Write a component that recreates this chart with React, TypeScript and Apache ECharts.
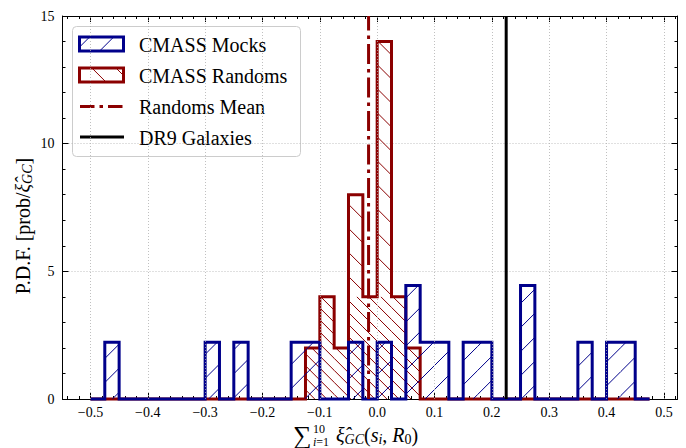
import React, { useEffect, useRef } from 'react';
import * as echarts from 'echarts';

// ---------------- data ----------------
const binEdges: number[] = [
  -0.5, -0.475, -0.45, -0.425, -0.4, -0.375, -0.35, -0.325, -0.3, -0.275,
  -0.25, -0.225, -0.2, -0.175, -0.15, -0.125, -0.1, -0.075, -0.05, -0.025,
  0.0, 0.025, 0.05, 0.075, 0.1, 0.125, 0.15, 0.175, 0.2, 0.225,
  0.25, 0.275, 0.3, 0.325, 0.35, 0.375, 0.4, 0.425, 0.45, 0.475,
];

// CMASS Mocks (density per bin, 18 mocks)
const mockDensity: number[] = [
  0, 2.222, 0, 0, 0, 0, 0, 0, 2.222, 0,
  2.222, 0, 0, 0, 2.222, 2.222, 0, 0, 2.222, 0,
  2.222, 0, 4.444, 2.222, 2.222, 0, 2.222, 2.222, 0, 0,
  4.444, 0, 0, 0, 2.222, 0, 2.222, 2.222, 0,
];

// CMASS Randoms (density per bin, 20 randoms)
const randomDensity: number[] = [
  0, 0, 0, 0, 0, 0, 0, 0, 0, 0,
  0, 0, 0, 0, 0, 2, 4, 2, 8, 4,
  14, 4, 2, 0, 0, 0, 0, 0, 0, 0,
  0, 0, 0, 0, 0, 0, 0, 0, 0,
];

const randomsMean = -0.015;
const dr9Galaxies = 0.225;

const xTicks: number[] = [-0.5, -0.4, -0.3, -0.2, -0.1, 0.0, 0.1, 0.2, 0.3, 0.4, 0.5];
const yTicks: number[] = [0, 5, 10, 15];
const legendLabels: string[] = ['CMASS Mocks', 'CMASS Randoms', 'Randoms Mean', 'DR9 Galaxies'];

const X_MIN = -0.54875;
const X_MAX = 0.52375;
const Y_MIN = 0;
const Y_MAX = 15;

const xMinorTicks: number[] = [];
for (let k = -27; k <= 26; k++) xMinorTicks.push(Math.round(k * 2) / 100);

// ---------------- style ----------------
const FONT = 'Liberation Serif, DejaVu Serif, serif';
const BLUE = '#00008b';
const RED = '#8b0000';
const GRID = '#b0b0b0';
const PERIOD = 24.05;
const BLUE_PHASE = 463.3;
const RED_PHASE = -336.6;

function hatchSegments(x0: number, y0: number, x1: number, y1: number, dir: number, phase: number) {
  const segs: number[][] = [];
  if (x1 - x0 < 0.5 || y1 - y0 < 0.5) return segs;
  if (dir === 1) {
    const cMin = x0 + y0, cMax = x1 + y1;
    let c = Math.ceil((cMin - phase) / PERIOD) * PERIOD + phase;
    for (; c <= cMax; c += PERIOD) {
      const xs = Math.max(x0, c - y1), xe = Math.min(x1, c - y0);
      if (xe - xs > 0.3) segs.push([xs, c - xs, xe, c - xe]);
    }
  } else {
    const cMin = y0 - x1, cMax = y1 - x0;
    let c = Math.ceil((cMin - phase) / PERIOD) * PERIOD + phase;
    for (; c <= cMax; c += PERIOD) {
      const xs = Math.max(x0, y0 - c), xe = Math.min(x1, y1 - c);
      if (xe - xs > 0.3) segs.push([xs, xs + c, xe, xe + c]);
    }
  }
  return segs;
}

function hatchElements(x0: number, y0: number, x1: number, y1: number, dir: number, phase: number, color: string) {
  return hatchSegments(x0, y0, x1, y1, dir, phase).map((s) => ({
    type: 'line',
    silent: true,
    shape: { x1: s[0], y1: s[1], x2: s[2], y2: s[3] },
    style: { stroke: color, lineWidth: 1 },
  }));
}

function makeHistRender(density: number[], color: string, dir: number, phase: number, dense?: { cap: number; phase: number }) {
  return (_params: any, api: any) => {
    const children: any[] = [];
    for (let i = 0; i < density.length; i++) {
      const h = density[i];
      if (h <= 0) continue;
      const a = api.coord([binEdges[i], h]);
      const b = api.coord([binEdges[i + 1], 0]);
      children.push(...hatchElements(a[0], a[1], b[0], b[1], dir, phase, color));
      if (dense) {
        const c = api.coord([binEdges[i], Math.min(h, dense.cap)]);
        children.push(...hatchElements(c[0], c[1], b[0], b[1], dir, dense.phase, color));
      }
    }
    const pts: number[][] = [api.coord([binEdges[0], 0])];
    for (let i = 0; i < density.length; i++) {
      pts.push(api.coord([binEdges[i], density[i]]));
      pts.push(api.coord([binEdges[i + 1], density[i]]));
    }
    pts.push(api.coord([binEdges[density.length], 0]));
    children.push({
      type: 'polyline',
      silent: true,
      shape: { points: pts },
      style: { stroke: color, lineWidth: 3, fill: 'none', lineJoin: 'miter' },
    });
    return { type: 'group', children };
  };
}

const fmtX = (v: number) => {
  const s = Math.abs(v) < 1e-9 ? '0.0' : v.toFixed(1);
  return s.replace('-', '\u2212');
};

const axisBase = (pos: string, extra: any) => ({
  type: 'value',
  position: pos,
  min: X_MIN,
  max: X_MAX,
  splitLine: { show: false },
  ...extra,
});

function legendGraphic() {
  const children: any[] = [];
  children.push({
    type: 'rect',
    shape: { x: 72.5, y: 26.5, width: 228, height: 130, r: 4 },
    style: { fill: 'rgba(255,255,255,0.8)', stroke: '#cccccc', lineWidth: 1 },
  });
  // Row 1: mocks
  children.push(...hatchElements(79.5, 37, 123.5, 51, 1, BLUE_PHASE, BLUE));
  children.push({ type: 'rect', shape: { x: 79.5, y: 37, width: 44, height: 14 }, style: { fill: 'none', stroke: BLUE, lineWidth: 3 } });
  // Row 2: randoms
  children.push(...hatchElements(79.5, 68, 123.5, 82, -1, RED_PHASE, RED));
  children.push({ type: 'rect', shape: { x: 79.5, y: 68, width: 44, height: 14 }, style: { fill: 'none', stroke: RED, lineWidth: 3 } });
  // Row 3: mean line
  children.push({ type: 'line', shape: { x1: 80, y1: 106.5, x2: 124, y2: 106.5 }, style: { stroke: RED, lineWidth: 3, lineDash: [14.5, 5, 3.5, 5] } });
  // Row 4: DR9
  children.push({ type: 'line', shape: { x1: 80, y1: 137, x2: 124, y2: 137 }, style: { stroke: '#000', lineWidth: 3 } });
  const ys = [45, 76, 107, 137.5];
  legendLabels.forEach((t, i) => {
    children.push({
      type: 'text',
      x: 139,
      y: ys[i],
      style: {
        text: '{a|' + t + '}', fill: '#000', fontSize: 20, fontFamily: FONT, align: 'left', verticalAlign: 'middle',
        rich: { a: { fontSize: 20, fontFamily: FONT, fill: '#000' } },
      },
    });
  });
  return { type: 'group', z: 100, children };
}

function axisTitles() {
  const rich = {
    rm: { fontSize: 20, fontFamily: FONT, fill: '#000', lineHeight: 20 },
    it: { fontSize: 20, fontFamily: FONT, fontStyle: 'italic', fill: '#000', lineHeight: 20 },
    sub: { fontSize: 14, fontFamily: FONT, fontStyle: 'italic', fill: '#000', lineHeight: 14, padding: [8, 0, 0, 0] },
    subrm: { fontSize: 14, fontFamily: FONT, fill: '#000', lineHeight: 14, padding: [8, 0, 0, 0] },
  };
  const small = {
    i: { fontSize: 12, fontStyle: 'italic', fontFamily: FONT, fill: '#000' },
    n: { fontSize: 12, fontFamily: FONT, fill: '#000' },
  };
  return [
    // x label
    {
      type: 'text', x: 293, y: 435, z: 100,
      style: {
        text: '{s|\u2211}', fill: '#000', fontSize: 26, fontFamily: FONT, align: 'left', verticalAlign: 'middle',
        rich: { s: { fontSize: 26, fontFamily: FONT, fill: '#000' } },
      },
    },
    {
      type: 'text', x: 313, y: 428.5, z: 100,
      style: { text: '{n|10}', fill: '#000', fontSize: 12, fontFamily: FONT, align: 'left', verticalAlign: 'middle', rich: small },
    },
    {
      type: 'text', x: 313, y: 442, z: 100,
      style: { text: '{i|i}{n|=1}', fill: '#000', fontSize: 12, fontFamily: FONT, align: 'left', verticalAlign: 'middle', rich: small },
    },
    {
      type: 'text', x: 336, y: 435, z: 100,
      style: {
        text: '{it|\u03be\u0302}{sub|GC}{rm|(}{it|s}{sub|i}{rm|, }{it|R}{subrm|0}{rm|)}',
        fill: '#000', fontSize: 20, fontFamily: FONT, align: 'left', verticalAlign: 'middle', rich,
      },
    },
    // y label
    {
      type: 'text', x: 23, y: 226, rotation: Math.PI / 2, z: 100,
      style: {
        text: '{rm|P.D.F. [prob/}{it|\u03be\u0302}{sub|GC}{rm|]}',
        fill: '#000', fontSize: 20, fontFamily: FONT, align: 'center', verticalAlign: 'middle', rich,
      },
    },
  ];
}

export default function App() {
  const ref = useRef<HTMLDivElement>(null);
  useEffect(() => {
    if (!ref.current) return;
    const chart = echarts.init(ref.current, null, { renderer: 'svg' });
    const tickLine = { color: '#000', width: 1 };
    const tickRich = { t: { fontSize: 14, fontFamily: FONT, color: '#000' } };
    const option: any = {
      animation: false,
      backgroundColor: '#fff',
      textStyle: { fontFamily: FONT },
      grid: { left: 62.5, right: 8.5, top: 16, bottom: 49, containLabel: false },
      xAxis: [
        axisBase('bottom', {
          axisLine: { show: true, onZero: false, lineStyle: { color: '#000', width: 1 } },
          axisTick: { show: true, inside: true, length: 6, customValues: xTicks, lineStyle: tickLine },
          axisLabel: {
            show: true, customValues: xTicks, formatter: (v: number) => '{t|' + fmtX(v) + '}',
            margin: 6, fontSize: 14, fontFamily: FONT, color: '#000', rich: tickRich,
          },
        }),
        axisBase('bottom', {
          axisLine: { show: false, onZero: false },
          axisTick: { show: true, inside: true, length: 3, customValues: xMinorTicks, lineStyle: tickLine },
          axisLabel: { show: false },
        }),
        axisBase('top', {
          axisLine: { show: true, onZero: false, lineStyle: { color: '#000', width: 1 } },
          axisTick: { show: true, inside: true, length: 6, customValues: xTicks, lineStyle: tickLine },
          axisLabel: { show: false },
        }),
        axisBase('top', {
          axisLine: { show: false, onZero: false },
          axisTick: { show: true, inside: true, length: 3, customValues: xMinorTicks, lineStyle: tickLine },
          axisLabel: { show: false },
        }),
      ],
      yAxis: [
        {
          type: 'value', position: 'left', min: Y_MIN, max: Y_MAX, interval: 5,
          axisLine: { show: true, onZero: false, lineStyle: { color: '#000', width: 1 } },
          axisTick: { show: true, inside: true, length: 6, lineStyle: tickLine },
          minorTick: { show: true, splitNumber: 5, length: 3, lineStyle: tickLine },
          axisLabel: {
            show: true, margin: 8, fontSize: 14, fontFamily: FONT, color: '#000', customValues: yTicks,
            formatter: (v: number) => '{t|' + v + '}', rich: tickRich,
          },
          splitLine: { show: true, lineStyle: { color: GRID, width: 0.8, type: [1, 2] } },
        },
        {
          type: 'value', position: 'right', min: Y_MIN, max: Y_MAX, interval: 5,
          axisLine: { show: true, onZero: false, lineStyle: { color: '#000', width: 1 } },
          axisTick: { show: true, inside: true, length: 6, lineStyle: tickLine },
          minorTick: { show: true, splitNumber: 5, length: 3, lineStyle: tickLine },
          axisLabel: { show: false },
          splitLine: { show: false },
        },
      ],
      series: [
        {
          type: 'line', name: 'grid', z: 1, silent: true, symbol: 'none',
          data: [[xTicks[0], 0]],
          lineStyle: { opacity: 0 },
          markLine: {
            silent: true, symbol: ['none', 'none'], label: { show: false },
            lineStyle: { color: GRID, width: 0.8, type: [1, 2] },
            data: xTicks.map((v) => ({ xAxis: v })),
          },
        },
        {
          type: 'custom', name: 'CMASS Randoms', z: 3, silent: true, clip: false,
          data: [[0, 0]], encode: { x: 0, y: 1 },
          renderItem: makeHistRender(randomDensity, RED, -1, RED_PHASE, { cap: 4, phase: RED_PHASE + PERIOD / 2 }),
        },
        {
          type: 'custom', name: 'CMASS Mocks', z: 4, silent: true, clip: false,
          data: [[0, 0]], encode: { x: 0, y: 1 },
          renderItem: makeHistRender(mockDensity, BLUE, 1, BLUE_PHASE),
        },
        {
          type: 'line', name: 'Randoms Mean', z: 5, silent: true, symbol: 'none',
          data: [[randomsMean, Y_MIN], [randomsMean, Y_MAX]],
          lineStyle: { color: RED, width: 3, type: [20, 5, 3.5, 5], cap: 'butt' },
        },
        {
          type: 'line', name: 'DR9 Galaxies', z: 5, silent: true, symbol: 'none',
          data: [[dr9Galaxies, Y_MIN], [dr9Galaxies, Y_MAX]],
          lineStyle: { color: '#000', width: 3 },
        },
      ],
      graphic: [legendGraphic(), ...axisTitles()],
    };
    chart.setOption(option);
    return () => chart.dispose();
  }, []);
  return <div ref={ref} style={{ position: 'absolute', left: 0, top: 0, width: 686, height: 448 }} />;
}
